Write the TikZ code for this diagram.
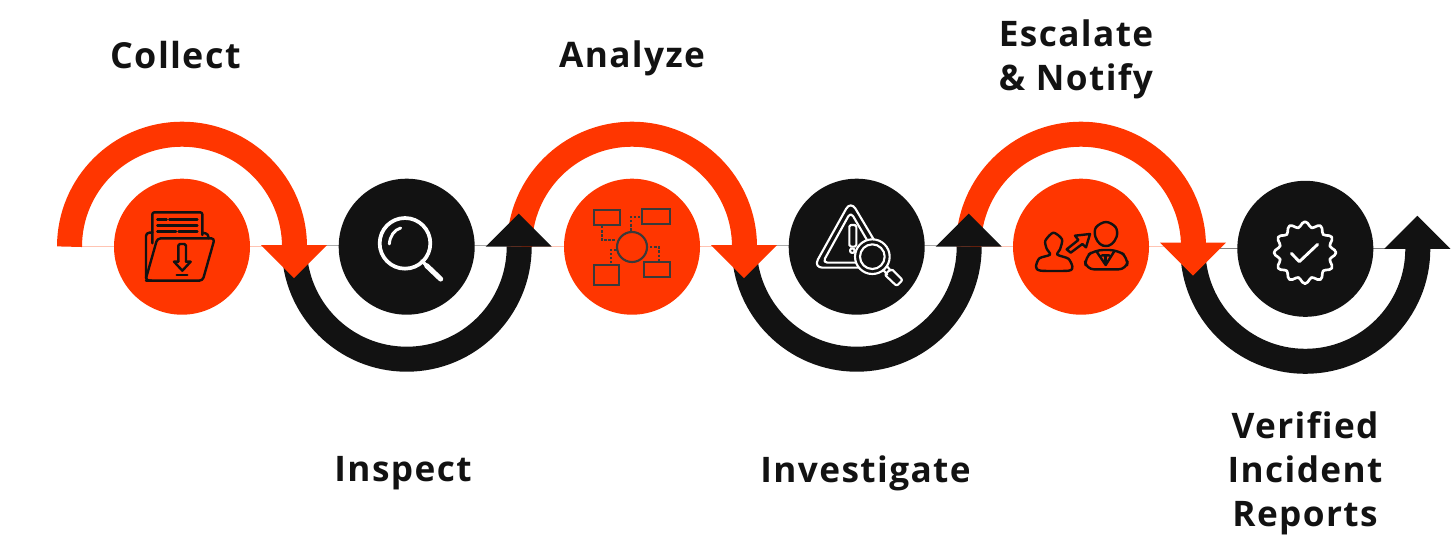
\documentclass[tikz,border=0pt]{standalone}
\usepackage{fontspec}
\setmainfont[LetterSpace=4,Ligatures=NoCommon]{Open Sans Bold}
\definecolor{hot}{HTML}{FF3600}
\definecolor{ink}{HTML}{121212}
\definecolor{palered}{HTML}{FFC4B3}
\definecolor{greyline}{HTML}{AAAAAA}
\definecolor{iconslate}{HTML}{3A3A3A}
\tikzset{
  band/.style={line width=18.75pt},
  disc/.style={circle,inner sep=0pt,minimum size=102pt},
  caption/.style={text=ink,align=center,inner sep=0pt,font=\fontsize{26.4}{33}\selectfont},
  zoomframe/.style={x=0.25pt,y=-0.25pt},
  blackic/.style={draw=ink,line width=1.8pt,line join=round,line cap=round},
  whiteic/.style={draw=white,line width=1.6pt,line join=round,line cap=round},
  slateic/.style={draw=iconslate,line width=1.6pt},
}
\newcommand{\redhead}[2]{\fill[hot] (#1) ++(79,#2) -- ++(66,0) -- ++(-33,33) -- cycle;}
\newcommand{\blackhead}[2]{\fill[ink] (#1) ++(79,#2) -- ++(66,0) -- ++(-33,-33) -- cycle;}
\newcommand{\redarc}[1]{\draw[hot,band] (#1) ++(-112.5,0) arc[start angle=180,end angle=360,radius=112.5];}
\newcommand{\blackarc}[1]{\draw[ink,band] (#1) ++(-112.5,0) arc[start angle=180,end angle=0,radius=112.5];}
\begin{document}
\begin{tikzpicture}[x=0.75pt,y=-0.75pt]
\useasboundingbox (0,0) rectangle (1451,546);
\coordinate (u1) at (182,246.7);
\coordinate (u2) at (406.7,246.7);
\coordinate (u3) at (632,246.7);
\coordinate (u4) at (856.7,246.7);
\coordinate (u5) at (1081,246.7);
\coordinate (u6) at (1305.3,248.8);
% thin hairlines
\draw[palered,line width=.5pt] (u1) ++(-100,0) -- ++(200,0);
\draw[palered,line width=.5pt] (u3) ++(-100,0) -- ++(200,0);
\draw[palered,line width=.5pt] (u5) ++(-100,0) -- ++(200,0);
\draw[greyline,line width=.6pt] (u2) ++(-100,-1) -- ++(200,0);
\draw[greyline,line width=.6pt] (u4) ++(-100,-1) -- ++(200,0);
\draw[gray,line width=.5pt] (u6) ++(-100,0) -- ++(200,0);
% arcs and arrowheads, interleaved
\blackarc{u2}
\redarc{u1}
\redhead{u1}{-1.5}
\blackarc{u4}
\redarc{u3}
\redhead{u3}{-1.5}
\blackhead{u2}{0}
\blackarc{u6}
\redarc{u5}
\redhead{u5}{-4}
\blackhead{u4}{0}
\blackhead{u6}{0}
% discs
\node[disc,fill=hot] (c1) at (u1) {};
\node[disc,fill=ink] (c2) at (u2) {};
\node[disc,fill=hot] (c3) at (u3) {};
\node[disc,fill=ink] (c4) at (u4) {};
\node[disc,fill=hot] (c5) at (u5) {};
\node[disc,fill=ink] (c6) at (u6) {};
% icon 1: folder
\begin{scope}[shift={(40,110)},zoomframe]
 \draw[blackic] (337,400) -- (337,314) [rounded corners=1.5pt] -- (337,307) -- (487,307) -- (487,375);
 \draw[blackic] (352,328)--(380,328) (388,328)--(472,328) (352,347)--(472,347) (352,364)--(408,364) (416,364)--(472,364);
 \draw[blackic,rounded corners=2.5pt] (337,368)--(318,368)--(318,512)--(335,512);
 \draw[blackic,rounded corners=2pt] (487,368)--(505,372)--(505,385);
 \draw[blackic,rounded corners=2.5pt] (318,505)--(352,385)--(524,385)--(488,512)--(318,512);
 \draw[blackic,rounded corners=1.2pt] (415,455)--(415,402)--(438,402)--(438,455);
 \draw[blackic] (415,455)--(402,455)--(427,482)--(452,455)--(438,455);
 \draw[blackic] (410,495)--(442,495);
\end{scope}
% icon 2: magnifier
\begin{scope}[shift={(330,170)},zoomframe]
 \draw[whiteic,line width=2.8pt] (225,220) circle[radius=76];
 \draw[whiteic,line width=2.2pt] (178,222) .. controls (180,198) and (192,180) .. (212,174);
 \draw[whiteic,line width=2.4pt] (275,272)--(290,287);
 \draw[whiteic,line width=3.8pt] (290,287)--(332,327);
\end{scope}
% icon 3: map
\begin{scope}[shift={(560,170)},zoomframe]
 \draw[slateic] (102,120) rectangle (181,165);
 \draw[slateic] (245,116) rectangle (329,161);
 \draw[slateic] (102,284) rectangle (178,344);
 \draw[slateic] (252,276) rectangle (329,320);
 \draw[slateic] (216,231) circle[radius=45];
 \draw[slateic,dash pattern=on 1.8pt off 1.3pt] (125,168)--(125,210)--(168,210);
 \draw[slateic,dash pattern=on 1.8pt off 1.3pt] (214,182)--(214,140)--(245,140);
 \draw[slateic,dash pattern=on 1.8pt off 1.3pt] (152,280)--(152,241)--(170,241);
 \draw[slateic,dash pattern=on 1.8pt off 1.3pt] (270,230)--(296,230)--(296,272);
\end{scope}
% icon 4: warning and lens
\begin{scope}[shift={(780,170)},zoomframe]
 \draw[whiteic,rounded corners=7pt] (240,293)--(100,293)--(212,92)--(300,240);
 \draw[whiteic,rounded corners=3.5pt] (240,278)--(128,278)--(212,126)--(268,222);
 \draw[whiteic,rounded corners=1.2pt] (208,165) rectangle (229,230);
 \draw[whiteic] (217,242) circle[radius=7];
 \fill[ink] (277,260) circle[radius=52];
 \draw[whiteic] (277,260) circle[radius=52];
 \draw[whiteic] (277,260) circle[radius=37];
 \draw[whiteic] (310,300)--(322,314) (322,290)--(332,302);
 \draw[whiteic,rounded corners=1.5pt] (314,314)--(334,296)--(368,330)--(350,348)--cycle;
\end{scope}
% icon 5: people
\begin{scope}[shift={(1000,170)},zoomframe]
 \draw[blackic] plot[smooth cycle,tension=.45] coordinates {(122,302)(108,290)(118,265)(150,254)(140,236)(136,212)(160,188)(186,208)(180,238)(172,254)(205,266)(217,290)(206,302)};
 \draw[blackic] (200,238)--(235,210)--(225,197)--(270,192)--(258,232)--(247,222)--(212,248)--cycle;
 \draw[blackic] plot[smooth cycle,tension=.6] coordinates {(318,156)(347,172)(350,200)(335,222)(318,228)(300,222)(286,200)(288,172)};
 \draw[blackic,rounded corners=6pt] (285,240)--(352,240)--(384,262)--(380,298)--(258,298)--(254,262)--cycle;
 \draw[blackic] (290,245)--(317,285)--(342,245) (306,256)--(328,256);
 \draw[blackic] (317,256)--(317,280);
\end{scope}
% icon 6: badge
\begin{scope}[shift={(1160,170)},zoomframe]
 \draw[whiteic,line width=2pt] plot[smooth cycle,samples=72,domain=0:355,variable=\t] ({435+(85+8*cos(12*\t))*cos(\t)},{248+(85+8*cos(12*\t))*sin(\t)});
 \draw[whiteic,line width=2.2pt] (394,250)--(418,275)--(473,223);
\end{scope}
% captions
\node[caption,font=\fontsize{26.9}{33}\selectfont] (t1) at (175.5,55.5) {Collect};
\node[caption] (t2) at (403,473.5) {Inspect};
\node[caption] (t3) at (632,58.5) {Analyze};
\node[caption] (t4) at (865.5,473) {Investigate};
\node[caption] (t5) at (1076,59) {Escalate\\\& Notify};
\node[caption] (t6) at (1305,473) {Verified\\Incident\\Reports};
\end{tikzpicture}
\end{document}
